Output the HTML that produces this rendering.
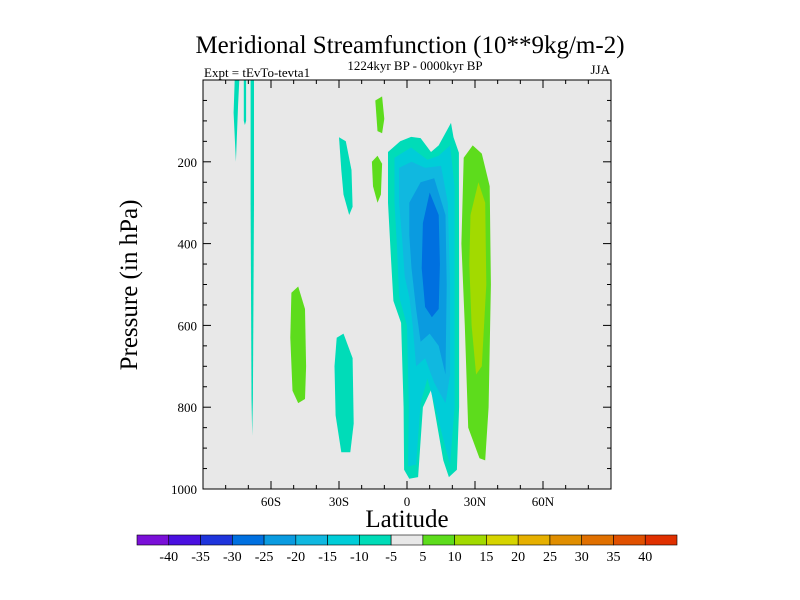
<!DOCTYPE html>
<html><head><meta charset="utf-8">
<style>
body{margin:0;background:#fff;}
svg{display:block;font-family:"Liberation Serif",serif;}
</style></head>
<body>
<svg id="chart" width="800" height="600" viewBox="0 0 800 600" xmlns="http://www.w3.org/2000/svg">
<text x="410" y="53" font-size="25" text-anchor="middle">Meridional Streamfunction (10**9kg/m-2)</text>
<text x="204" y="77" font-size="13">Expt = tEvTo-tevta1</text>
<text x="415" y="70" font-size="13" text-anchor="middle">1224kyr BP - 0000kyr BP</text>
<text x="610" y="74" font-size="13" text-anchor="end">JJA</text>
<rect x="203" y="80" width="408" height="409" fill="#e8e8e8"/>
<g id="fills"></g>
<rect x="203" y="80" width="408" height="409" fill="none" stroke="#000" stroke-width="1"/>
<g id="axes"></g>
<text transform="translate(137,285) rotate(-90)" font-size="25" text-anchor="middle">Pressure (in hPa)</text>
<text x="407" y="527" font-size="25" text-anchor="middle">Latitude</text>
<g id="colorbar"></g>
</svg>
<script>
const xTicks=[-60,-30,0,30,60];
const xTickLabels=["60S","30S","0","30N","60N"];
const yTicks=[200,400,600,800,1000];
const levelColors=["#7a10d8","#4a10e0","#1f35dc","#0070e0","#0a9be0","#10b8e0","#00cdd8","#00dcb8","#e8e8e8","#5ddc1c","#a2da00","#d6d400","#e6b000","#e08e00","#e07000","#e05000","#e03000"];
const levelLabels=["-40","-35","-30","-25","-20","-15","-10","-5","5","10","15","20","25","30","35","40"];
// contour regions: level index, polygon in [lat, pressure]
const regionLevels=[7,6,5,4,3,9,10,7,7,7,9,9,9,7,7];
const regionShapes=[
[[-8.4,176],[-3,150],[1.8,139],[6,142],[10.6,176],[14,160],[19.4,105],[20.5,140],[22.9,178],[23,500],[23,800],[22,953],[18.5,971],[16,930],[10.6,758],[7,800],[4.9,971],[1,975],[-1.3,953],[-1.5,800],[-2.6,594],[-6,540],[-7.1,433],[-8.4,300]],
[[-5.5,190],[1.8,165],[9,195],[14,185],[19,160],[21,260],[21,650],[21,800],[19,940],[17,900],[12,790],[9,730],[6,790],[4,940],[0.5,945],[0.8,800],[0,600],[-3.5,530],[-4.5,400],[-5.5,300]],
[[-3.5,215],[2,200],[8,215],[15,210],[18,300],[19,500],[19,720],[17,790],[12,740],[8,680],[4,700],[2.5,600],[1,530],[-1,480],[-2,400],[-3.5,300]],
[[1,300],[6,250],[12,240],[17,330],[17.5,500],[17,720],[14,650],[10,620],[6,640],[4,560],[2,460],[1,380]],
[[7,350],[10,275],[14,330],[14.5,450],[14,560],[11,580],[8,555],[6.5,460]],
[[25,190],[29,160],[33,180],[36.5,260],[37,500],[36,800],[34.5,930],[32,925],[27,850],[25.5,600],[24,400]],
[[28,330],[31.5,250],[34.5,300],[35,500],[33,700],[30.5,720],[28.5,600],[27.5,450]],
[[-30,140],[-27,150],[-24.5,220],[-24,310],[-25.5,330],[-28,280],[-29,220]],
[[-31,630],[-28,620],[-24,680],[-23.5,840],[-25,910],[-29,910],[-31.5,820],[-32,700]],
[[-76,0],[-74,0],[-74.5,60],[-75.5,200],[-76.5,80]],
[[-14,50],[-11,40],[-10,95],[-11,130],[-13,125]],
[[-15.5,200],[-13,185],[-11,205],[-11.5,280],[-13,300],[-15,260]],
[[-51,520],[-48,505],[-45,560],[-44.5,700],[-45,780],[-48,790],[-50.5,760],[-51.5,630]],
[[-69,0],[-67.5,0],[-67.5,300],[-68,780],[-68.3,870],[-68.6,780],[-69,300]],
[[-72,0],[-71,0],[-71,100],[-71.5,110],[-72,100]]
];
const svg=document.getElementById('chart');
const NS="http://www.w3.org/2000/svg";
const X0=203,X1=611,Y0=80,Y1=489;
function x(lat){return X0+(lat+90)/180*(X1-X0);}
function y(p){return Y0+p/1000*(Y1-Y0);}
const fills=document.getElementById('fills');
regionShapes.forEach((pts,i)=>{
 const pg=document.createElementNS(NS,'polygon');
 pg.setAttribute('points',pts.map(q=>x(q[0]).toFixed(1)+','+y(q[1]).toFixed(1)).join(' '));
 pg.setAttribute('fill',levelColors[regionLevels[i]]);
 
 
 fills.appendChild(pg);
});
const axes=document.getElementById('axes');
function line(x1,y1,x2,y2){const l=document.createElementNS(NS,'line');l.setAttribute('x1',x1);l.setAttribute('y1',y1);l.setAttribute('x2',x2);l.setAttribute('y2',y2);l.setAttribute('stroke','#000');l.setAttribute('stroke-width','1');


axes.appendChild(l);}
function txt(s,tx,ty,anchor,name){const t=document.createElementNS(NS,'text');t.textContent=s;t.setAttribute('x',tx);t.setAttribute('y',ty);t.setAttribute('font-size','13');t.setAttribute('text-anchor',anchor);


axes.appendChild(t);}
for(let lat=-90;lat<=90;lat+=10){const L=lat%30===0?8:4;line(x(lat),Y1,x(lat),Y1-L);line(x(lat),Y0,x(lat),Y0+L);}
xTicks.forEach((v,i)=>txt(xTickLabels[i],x(v),Y1+17,'middle','x-tick-label'));
for(let p=0;p<=1000;p+=50){const L=p%200===0?8:4;line(X0,y(p),X0+L,y(p));line(X1,y(p),X1-L,y(p));}
yTicks.forEach(v=>txt(String(v),X0-6,y(v)+5,'end','y-tick-label'));
const cb=document.getElementById('colorbar');
const CB0=137,CB1=677,CBY=535,CBH=10,bw=(CB1-CB0)/levelColors.length;
levelColors.forEach((c,i)=>{const r=document.createElementNS(NS,'rect');r.setAttribute('x',CB0+i*bw);r.setAttribute('y',CBY);r.setAttribute('width',bw);r.setAttribute('height',CBH);r.setAttribute('fill',c);r.setAttribute('stroke','#000');r.setAttribute('stroke-width','0.6');


cb.appendChild(r);});
levelLabels.forEach((s,i)=>{const t=document.createElementNS(NS,'text');t.textContent=s;t.setAttribute('x',CB0+(i+1)*bw);t.setAttribute('y',CBY+26);t.setAttribute('font-size','14');t.setAttribute('text-anchor','middle');


cb.appendChild(t);});
</script>
</body></html>
